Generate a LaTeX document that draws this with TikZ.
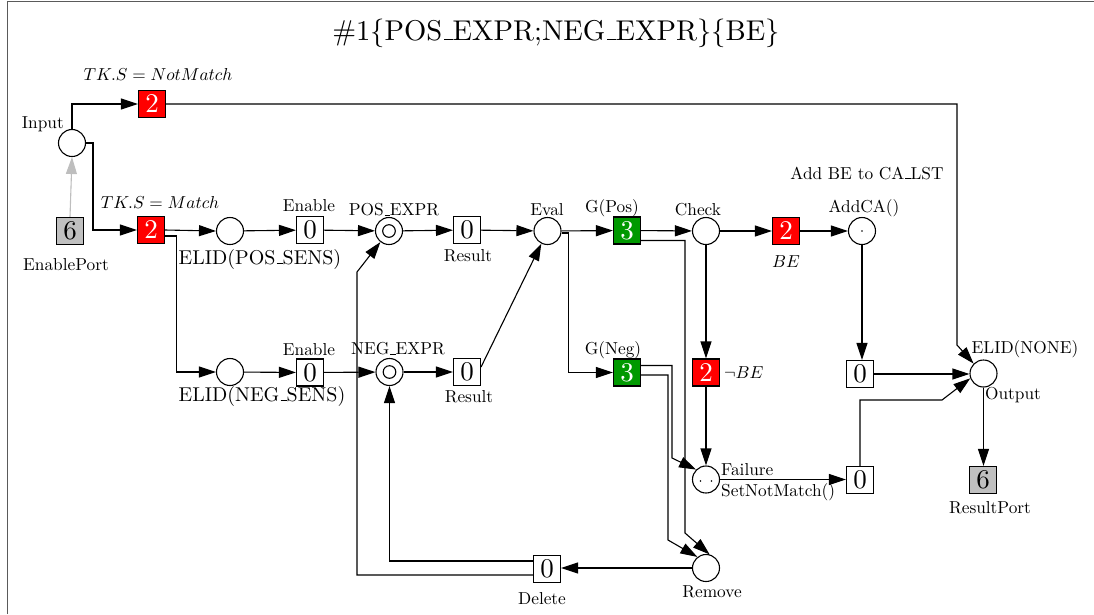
\documentclass[tikz,border=0pt]{standalone}
\usepackage{graphicx}
\usetikzlibrary{arrows.meta}
\definecolor{tokred}{RGB}{255,0,0}
\definecolor{tokgreen}{RGB}{0,153,0}
\definecolor{tokgray}{RGB}{192,192,192}
\definecolor{framegray}{RGB}{90,90,90}
\definecolor{arrgray}{RGB}{190,190,190}
\newcommand{\us}{\leavevmode\kern.06em\vbox{\hrule width.3em}}
\newcommand{\SL}[1]{\scalebox{1.73}{#1}}
\newcommand{\BL}[1]{\scalebox{2.0}{#1}}
\newcommand{\TL}[1]{\scalebox{2.7}{#1}}
\begin{document}
\begin{tikzpicture}[x=1pt,y=-1pt,
  place/.style={circle,draw,line width=1.1pt,minimum size=27pt,inner sep=0pt},
  dplace/.style={place,path picture={\draw[line width=1.1pt] (path picture bounding box.center) circle (6.3pt);}},
  onedot/.style={place,path picture={\fill (path picture bounding box.center) circle (0.9pt);}},
  twodot/.style={place,path picture={\fill ([xshift=-5.5pt,yshift=-1.5pt]path picture bounding box.center) circle (0.9pt); \fill ([xshift=5.5pt,yshift=-1.5pt]path picture bounding box.center) circle (0.9pt);}},
  tok/.style={rectangle,draw,line width=1.1pt,minimum size=27pt,inner sep=0pt},
  redtok/.style={tok,fill=tokred,text=white},
  greentok/.style={tok,fill=tokgreen,text=white},
  graytok/.style={tok,fill=tokgray},
  lbl/.style={inner sep=0pt},
  arr/.style={-{Triangle[length=17pt,width=11pt]},line width=1.1pt},
  garr/.style={arr,draw=arrgray,fill=arrgray}]
\useasboundingbox (0,0) rectangle (1094,614);
% frame
\draw[framegray,line width=1.5pt] (7.5,614) -- (7.5,1.5) -- (1094,1.5);
% title
\node[lbl] (title) at (556,33) {\scalebox{2.86}{\#1$\{$POS\us EXPR;NEG\us EXPR$\}\{$BE$\}$}};
% nodes
\node[place] (in) at (72,143) {};
\node[lbl,anchor=east] (inL) at (64,124) {\SL{Input}};
\node[graytok] (ep) at (70,231) {\TL{6}};
\node[lbl] (epL) at (66,265) {\SL{EnablePort}};
\node[redtok] (nm) at (152,104) {\TL{2}};
\node[lbl] (nmL) at (158,74) {\SL{$TK.S = NotMatch$}};
\node[redtok] (m) at (151,230) {\TL{2}};
\node[lbl] (mL) at (160,202) {\SL{$TK.S = Match$}};
\node[place] (elp) at (230,231) {};
\node[lbl] (elpL) at (260,259) {\BL{ELID(POS\us SENS)}};
\node[tok] (enp) at (310,230) {\TL{0}};
\node[lbl] (enpL) at (309,206) {\SL{Enable}};
\node[dplace] (pe) at (389,231) {};
\node[lbl] (peL) at (394,210) {\SL{POS\us EXPR}};
\node[tok] (rp) at (467,230) {\TL{0}};
\node[lbl] (rpL) at (468,256) {\SL{Result}};
\node[place] (ev) at (547.5,231) {};
\node[lbl] (evL) at (547,210) {\SL{Eval}};
\node[greentok] (gp) at (627,230.5) {\TL{3}};
\node[lbl] (gpL) at (612,208) {\SL{G(Pos)}};
\node[place] (ck) at (706,231) {};
\node[lbl] (ckL) at (698,210) {\SL{Check}};
\node[redtok] (be) at (786,231) {\TL{2}};
\node[lbl] (beL) at (786,262) {\SL{$BE$}};
\node[onedot] (ac) at (862,231) {};
\node[lbl] (acL) at (864,208) {\SL{AddCA()}};
\node[lbl] (acL2) at (867,173) {\SL{Add BE to CA\us LST}};
\node[tok] (ab) at (860,374) {\TL{0}};
\node[place] (out) at (983.5,373.5) {};
\node[lbl] (outL) at (1025,349) {\SL{ELID(NONE)}};
\node[lbl] (outL2) at (1013,395) {\SL{Output}};
\node[graytok] (rsp) at (983,480) {\TL{6}};
\node[lbl] (rspL) at (990,508) {\SL{ResultPort}};
\node[tok] (fb) at (860,480) {\TL{0}};
\node[twodot] (fl) at (706,479.5) {};
\node[lbl,anchor=west] (flL) at (721,470) {\SL{Failure}};
\node[lbl,anchor=west] (flL2) at (721,492) {\SL{SetNotMatch()}};
\node[redtok] (nb) at (706,372.5) {\TL{2}};
\node[lbl,anchor=west] (nbL) at (724,373) {\SL{$\neg BE$}};
\node[greentok] (gn) at (627,372.5) {\TL{3}};
\node[lbl] (gnL) at (613,350) {\SL{G(Neg)}};
\node[place] (eln) at (230,372) {};
\node[lbl] (elnL) at (262,396) {\BL{ELID(NEG\us SENS)}};
\node[tok] (enn) at (310,372.5) {\TL{0}};
\node[lbl] (ennL) at (309,350) {\SL{Enable}};
\node[dplace] (ne) at (389.5,372) {};
\node[lbl] (neL) at (398,349) {\SL{NEG\us EXPR}};
\node[tok] (rn) at (467,372) {\TL{0}};
\node[lbl] (rnL) at (469,397) {\SL{Result}};
\node[place] (rm) at (706,568) {};
\node[lbl] (rmL) at (712,592) {\SL{Remove}};
\node[tok] (dl) at (547,569) {\TL{0}};
\node[lbl] (dlL) at (542,599) {\SL{Delete}};
% coordinates
\coordinate (c1) at (957,345);
\coordinate (c2) at (93,143);
\coordinate (c3) at (685,533);
\coordinate (c4) at (672,458);
\coordinate (c5) at (668,540);
\coordinate (c6) at (942,400);
\coordinate (c7) at (357,272);
% edges
\draw[garr] (ep.north) -- (in.south);
\draw[arr] (in.north) |- (nm.west);
\draw[arr] (nm.east) -| (c1) -- (out.north west);
\draw[arr] (in.east) -- (c2) |- (m.west);
\draw[arr] (m.east) -- (elp.west);
\draw[arr] ([yshift=-6pt]m.east) -- ++(11,0) |- (eln.west);
\draw[arr] (elp) -- (enp);
\draw[arr] (enp) -- (pe);
\draw[arr] (pe) -- (rp);
\draw[arr] (rp) -- (ev);
\draw[arr] (eln) -- (enn);
\draw[arr] (enn) -- (ne);
\draw[arr] (ne) -- (rn);
\draw[arr] ([yshift=5pt]rn.east) -- (ev);
\draw[arr] (ev) -- (gp);
\draw[arr] ([yshift=-2pt]ev.east) -- ++(7,0) |- (gn.west);
\draw[arr] (gp) -- (ck);
\draw[arr] ([yshift=-10pt]gp.east) -| (c3) -- (rm.75);
\draw[arr] ([yshift=7pt]gn.east) -| (c4) -- (fl.135);
\draw[arr] ([yshift=-2.5pt]gn.east) -| (c5) -- (rm.128);
\draw[arr] (ck) -- (be);
\draw[arr] (be) -- (ac);
\draw[arr] (ck.south) -- (nb.north);
\draw[arr] (nb.south) -- (fl.north);
\draw[arr] (fl.east) -- (fl.east -| fb.west);
\draw[arr] (fb.north) |- (c6) -- (out.200);
\draw[arr] (ac.south) -- (ac.south |- ab.north);
\draw[arr] (ab.east) -- (ab.east -| out.west);
\draw[arr] (out.south) -- (out.south |- rsp.north);
\draw[arr] (rm.west) -- (rm.west -| dl.east);
\draw[arr] ([yshift=8pt]dl.west) -| (ne.south);
\draw[arr] ([yshift=-6pt]dl.west) -| (c7) -- (pe);
\end{tikzpicture}
\end{document}
